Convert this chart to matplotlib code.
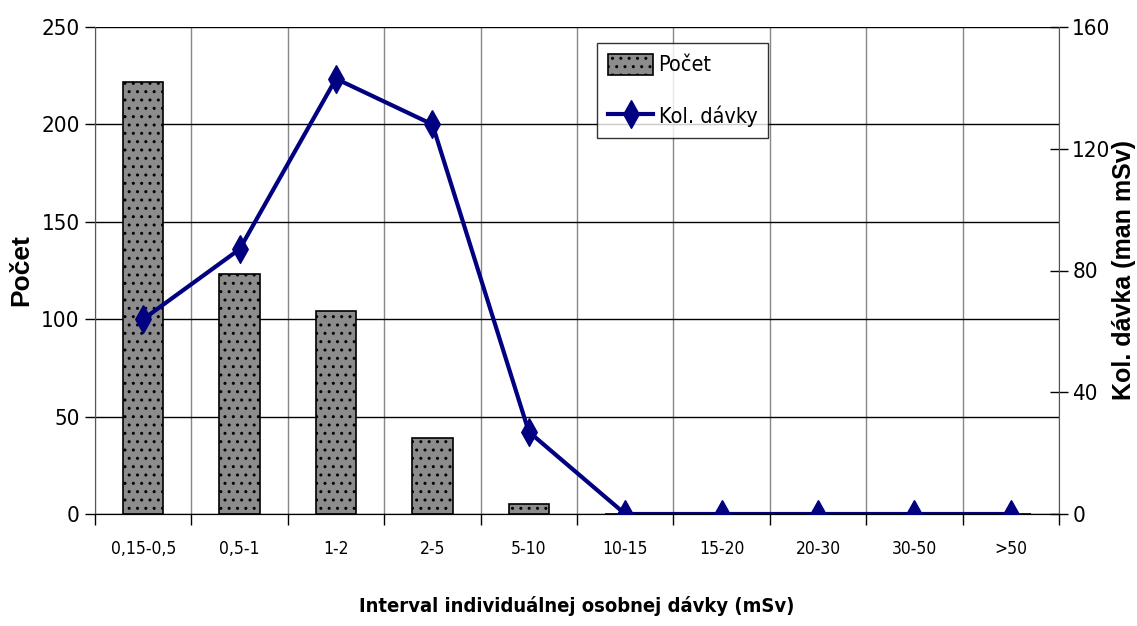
import matplotlib
matplotlib.use("Agg")
import matplotlib.pyplot as plt
import numpy as np

categories = ["0,15-0,5", "0,5-1", "1-2", "2-5", "5-10", "10-15", "15-20", "20-30", "30-50", ">50"]
pocet = [222, 123, 104, 39, 5, 0, 0, 0, 0, 0]
kol_davky = [64, 87, 143, 128, 27, 0, 0, 0, 0, 0]

plt.rcParams["hatch.color"] = "black"
plt.rcParams["hatch.linewidth"] = 1.0

# tall diamond, the original chart is stretched vertically
tall_diamond = [(0, 1), (0.56, 0), (0, -1), (-0.56, 0), (0, 1)]

fig = plt.figure(figsize=(11.37, 6.26), dpi=100)
ax = fig.add_axes([95 / 1137, 1 - 514 / 626, 964 / 1137, 487 / 626])
x = np.arange(len(categories))

ax.bar(x, pocet, width=0.42, color="#8c8c8c", edgecolor="black", hatch="..",
       linewidth=1.2, label="Počet", zorder=2)
ax.set_xlim(-0.5, len(categories) - 0.5)
ax.set_ylim(0, 250)
ax.set_yticks([0, 50, 100, 150, 200, 250])
ax.set_xticks(x)
ax.set_xticklabels(categories, fontsize=12.5, family="DejaVu Sans", stretch="condensed")
ax.tick_params(axis="x", length=0, pad=19)
ax.set_xticks(np.arange(-0.5, len(categories)), minor=True)
ax.tick_params(axis="x", which="minor", length=8, direction="out", width=1)
ax.grid(True, axis="y", color="black", linewidth=1, zorder=0)
ax.grid(True, axis="x", which="minor", color="#888888", linewidth=1, zorder=0)
for lab in ax.get_yticklabels():
    lab.set_family("DejaVu Sans")
    lab.set_stretch("condensed")
    lab.set_fontsize(16)
ax.tick_params(axis="y", length=7, width=1, pad=4)
ax.set_ylabel("Počet", fontsize=19, fontweight="bold", family="Liberation Sans")
ax.yaxis.set_label_coords(-0.064, 0.5)
ax.set_xlabel("Interval individuálnej osobnej dávky (mSv)", fontsize=14.5, fontweight="bold",
              family="DejaVu Sans", stretch="condensed")
ax.xaxis.set_label_coords(0.5, -0.168)
for s in ["top", "right"]:
    ax.spines[s].set_visible(False)
ax.spines["left"].set_color("#555555")
ax.spines["bottom"].set_color("#333333")

ax2 = ax.twinx()
ax2.plot(x, kol_davky, color="#000080", linewidth=3, marker=tall_diamond, markersize=20,
         label="Kol. dávky", zorder=3)
ax2.set_ylim(0, 160)
ax2.set_yticks([0, 40, 80, 120, 160])
for lab in ax2.get_yticklabels():
    lab.set_family("DejaVu Sans")
    lab.set_stretch("condensed")
    lab.set_fontsize(16)
ax2.tick_params(axis="y", direction="inout", length=13, width=1, pad=3)
ax2.set_ylabel("Kol. dávka (man mSv)", fontsize=18, fontweight="bold", family="Liberation Sans")
ax2.yaxis.set_label_coords(1.055, 0.5)
for s in ["top", "left"]:
    ax2.spines[s].set_visible(False)
ax2.spines["right"].set_color("#555555")

h1, l1 = ax.get_legend_handles_labels()
h2, l2 = ax2.get_legend_handles_labels()
leg = ax2.legend(h1 + h2, l1 + l2, loc="upper left", bbox_to_anchor=(0.521, 0.967),
                 prop={"family": "DejaVu Sans", "stretch": "condensed", "size": 15.5},
                 frameon=True, fancybox=False, edgecolor="black", handlelength=2.1,
                 handleheight=1.1, handletextpad=0.25, borderpad=0.5, labelspacing=1.4,
                 borderaxespad=0)
leg.get_frame().set_linewidth(1)

fig.savefig("out.png", dpi=100)
